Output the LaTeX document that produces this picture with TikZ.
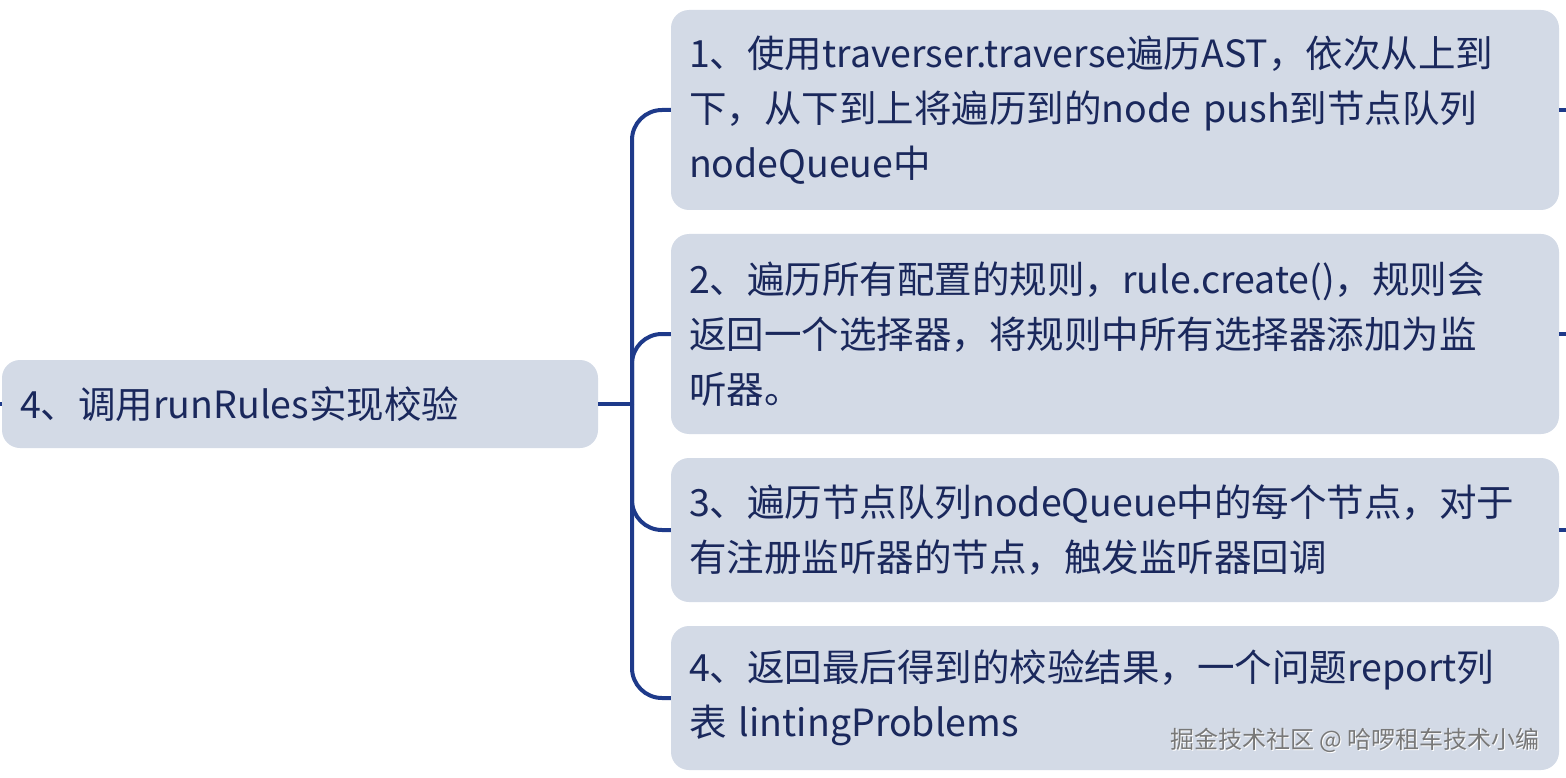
\documentclass[tikz,border=0pt]{standalone}
\usepackage{fontspec}
\setmainfont{Noto Sans CJK SC}
\definecolor{boxfill}{RGB}{211,218,230}
\definecolor{txt}{RGB}{26,40,92}
\definecolor{lne}{RGB}{30,58,138}
\definecolor{wm}{RGB}{120,120,120}
\tikzset{
  topic/.style={fill=boxfill, rounded corners=18pt, inner sep=0pt, text=txt,
    font=\fontsize{37.5}{55}\selectfont, align=left},
  child/.style={topic, minimum width=888pt, text width=852pt},
  conn/.style={draw=lne, line width=4pt, rounded corners=30pt},
}
\begin{document}
\begin{tikzpicture}[x=1pt,y=-1pt]
\useasboundingbox (0,0) rectangle (1566,778);
\node[topic, minimum width=596pt, minimum height=88pt, text width=560pt] (root) at (300,404) {4、调用runRules实现校验};
\node[child, minimum height=200pt] (c1) at (1115,110) {1、使用traverser.traverse遍历AST，依次从上到\\下，从下到上将遍历到的node push到节点队列\\nodeQueue中};
\node[child, minimum height=200pt] (c2) at (1115,334) {2、遍历所有配置的规则，rule.create()，规则会\\返回一个选择器，将规则中所有选择器添加为监\\听器。};
\node[child, minimum height=144pt] (c3) at (1115,530) {3、遍历节点队列nodeQueue中的每个节点，对于\\有注册监听器的节点，触发监听器回调};
\node[child, minimum height=144pt] (c4) at (1115,698) {4、返回最后得到的校验结果，一个问题report列\\表 lintingProblems};
\coordinate (j) at (632,404);
\coordinate (l0) at (0,404);
\coordinate (r1) at (1566,110);
\coordinate (r2) at (1566,334);
\coordinate (r3) at (1566,530);
\draw[conn] (root.east) -- (j);
\draw[conn] (j) |- (c1.west);
\draw[conn] (j) |- (c2.west);
\draw[conn] (j) |- (c3.west);
\draw[conn] (j) |- (c4.west);
\draw[conn] (root.west) -- (l0);
\draw[conn] (c1.east) -- (r1);
\draw[conn] (c2.east) -- (r2);
\draw[conn] (c3.east) -- (r3);
\node[anchor=east, text=white, font=\fontsize{24}{28}\selectfont] (wms) at (1544.5,741.5) {掘金技术社区 @ 哈啰租车技术小编};
\node[anchor=east, text=wm, font=\fontsize{24}{28}\selectfont] (wmk) at (1543,740) {掘金技术社区 @ 哈啰租车技术小编};
\end{tikzpicture}
\end{document}
